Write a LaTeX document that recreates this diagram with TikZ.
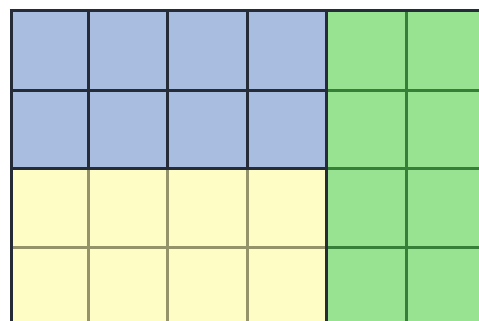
\documentclass[tikz,border=0pt]{standalone}
\definecolor{cellblue}{HTML}{A8BDE0}
\definecolor{cellyellow}{HTML}{FFFDC6}
\definecolor{cellgreen}{HTML}{98E392}
\definecolor{darkline}{HTML}{262B38}
\definecolor{yline}{HTML}{94936A}
\definecolor{gline}{HTML}{367F38}
\tikzset{
  darkrule/.style={draw=darkline,line width=3pt},
  yrule/.style={draw=yline,line width=3pt},
  grule/.style={draw=gline,line width=3pt}
}
\begin{document}
\begin{tikzpicture}[x=1pt,y=-1pt]
\useasboundingbox (0,0) rectangle (479,321);
\fill[white] (0,0) rectangle (479,321);
\fill[cellblue] (11,11) rectangle (326,168);
\fill[cellyellow] (11,168) rectangle (326,321);
\fill[cellgreen] (326,11) rectangle (479,321);
% green grid
\draw[grule] (406,11) -- (406,321);
\foreach \y in {90,168,247} \draw[grule] (326,\y) -- (479,\y);
% yellow grid
\foreach \x in {88,167,247} \draw[yrule] (\x,168) -- (\x,321);
\draw[yrule] (11,247) -- (326,247);
% blue grid
\foreach \x in {88,167,247} \draw[darkrule] (\x,11) -- (\x,168);
\draw[darkrule] (11,90) -- (326,90);
\draw[darkrule] (11,168) -- (326,168);
% outer dark lines
\draw[darkrule] (11,9.5) -- (11,321);
\draw[darkrule] (9.5,11) -- (479,11);
\draw[darkrule] (326,11) -- (326,321);
\end{tikzpicture}
\end{document}
